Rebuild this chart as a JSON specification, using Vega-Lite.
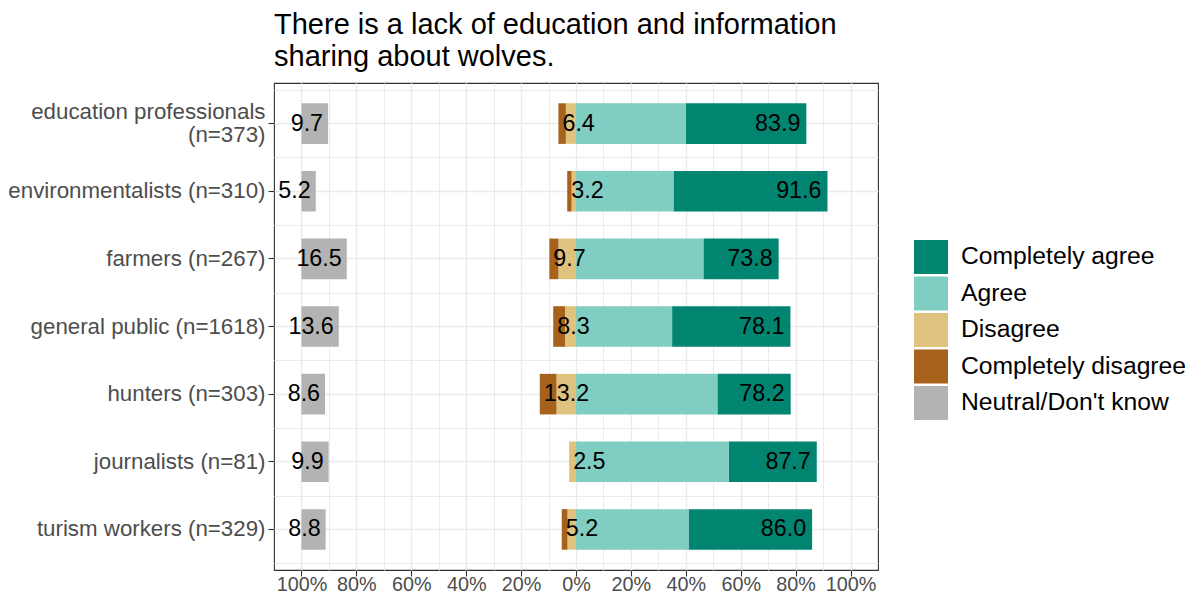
{
  "$schema": "https://vega.github.io/schema/vega-lite/v6.json",
  "width": 604,
  "height": 487,
  "autosize": {"type": "none"},
  "padding": {"left": 274, "top": 83, "right": 318, "bottom": 26},
  "background": "white",
  "title": {
    "text": ["There is a lack of education and information", "sharing about wolves."],
    "anchor": "start",
    "frame": "group",
    "fontSize": 29,
    "font": "Liberation Sans",
    "fontWeight": "normal",
    "color": "#000000",
    "lineHeight": 32,
    "offset": 11
  },
  "config": {
    "font": "Liberation Sans",
    "view": {"stroke": "#333333", "strokeWidth": 1.1},
    "legend": {
      "title": null,
      "symbolType": "square",
      "symbolSize": 1156,
      "symbolStrokeWidth": 0,
      "labelFontSize": 24.7,
      "labelColor": "#000000",
      "labelOffset": 13,
      "rowPadding": 2.5,
      "padding": 0,
      "labelLimit": 400
    }
  },
  "datasets": {
    "segments": [
      {"group": "education professionals (n=373)", "response": "Completely agree", "pct": 43.9},
      {"group": "education professionals (n=373)", "response": "Agree", "pct": 40.0},
      {"group": "education professionals (n=373)", "response": "Disagree", "pct": 3.7},
      {"group": "education professionals (n=373)", "response": "Completely disagree", "pct": 2.7},
      {"group": "education professionals (n=373)", "response": "Neutral/Don't know", "pct": 9.7},
      {"group": "environmentalists (n=310)", "response": "Completely agree", "pct": 56.1},
      {"group": "environmentalists (n=310)", "response": "Agree", "pct": 35.5},
      {"group": "environmentalists (n=310)", "response": "Disagree", "pct": 1.6},
      {"group": "environmentalists (n=310)", "response": "Completely disagree", "pct": 1.6},
      {"group": "environmentalists (n=310)", "response": "Neutral/Don't know", "pct": 5.2},
      {"group": "farmers (n=267)", "response": "Completely agree", "pct": 27.4},
      {"group": "farmers (n=267)", "response": "Agree", "pct": 46.4},
      {"group": "farmers (n=267)", "response": "Disagree", "pct": 6.4},
      {"group": "farmers (n=267)", "response": "Completely disagree", "pct": 3.3},
      {"group": "farmers (n=267)", "response": "Neutral/Don't know", "pct": 16.5},
      {"group": "general public (n=1618)", "response": "Completely agree", "pct": 43.1},
      {"group": "general public (n=1618)", "response": "Agree", "pct": 35.0},
      {"group": "general public (n=1618)", "response": "Disagree", "pct": 4.0},
      {"group": "general public (n=1618)", "response": "Completely disagree", "pct": 4.3},
      {"group": "general public (n=1618)", "response": "Neutral/Don't know", "pct": 13.6},
      {"group": "hunters (n=303)", "response": "Completely agree", "pct": 26.7},
      {"group": "hunters (n=303)", "response": "Agree", "pct": 51.5},
      {"group": "hunters (n=303)", "response": "Disagree", "pct": 7.1},
      {"group": "hunters (n=303)", "response": "Completely disagree", "pct": 6.1},
      {"group": "hunters (n=303)", "response": "Neutral/Don't know", "pct": 8.6},
      {"group": "journalists (n=81)", "response": "Completely agree", "pct": 32.1},
      {"group": "journalists (n=81)", "response": "Agree", "pct": 55.6},
      {"group": "journalists (n=81)", "response": "Disagree", "pct": 2.5},
      {"group": "journalists (n=81)", "response": "Completely disagree", "pct": 0.0},
      {"group": "journalists (n=81)", "response": "Neutral/Don't know", "pct": 9.9},
      {"group": "turism workers (n=329)", "response": "Completely agree", "pct": 45.0},
      {"group": "turism workers (n=329)", "response": "Agree", "pct": 41.0},
      {"group": "turism workers (n=329)", "response": "Disagree", "pct": 3.1},
      {"group": "turism workers (n=329)", "response": "Completely disagree", "pct": 2.1},
      {"group": "turism workers (n=329)", "response": "Neutral/Don't know", "pct": 8.8}
    ],
    "totals": [
      {"group": "education professionals (n=373)", "low": 6.4, "high": 83.9},
      {"group": "environmentalists (n=310)", "low": 3.2, "high": 91.6},
      {"group": "farmers (n=267)", "low": 9.7, "high": 73.8},
      {"group": "general public (n=1618)", "low": 8.3, "high": 78.1},
      {"group": "hunters (n=303)", "low": 13.2, "high": 78.2},
      {"group": "journalists (n=81)", "low": 2.5, "high": 87.7},
      {"group": "turism workers (n=329)", "low": 5.2, "high": 86.0}
    ]
  },
  "resolve": {
    "scale": {"x": "independent"},
    "axis": {"x": "independent", "y": "independent"}
  },
  "layer": [
    {
      "data": {"name": "segments"},
      "transform": [{"filter": {"field": "response", "oneOf": ["Agree", "Completely agree"]}}],
      "mark": {"type": "bar", "height": {"band": 0.6}},
      "encoding": {
        "y": {
          "field": "group", "type": "nominal", "sort": null,
          "scale": {
            "domain": ["education professionals (n=373)", "environmentalists (n=310)", "farmers (n=267)", "general public (n=1618)", "hunters (n=303)", "journalists (n=81)", "turism workers (n=329)"],
            "paddingInner": 0, "paddingOuter": 0.1
          },
          "axis": {
            "title": null, "orient": "left", "grid": true, "gridColor": "#EBEBEB", "gridWidth": 1.4,
            "domain": false, "tickColor": "#333333", "tickSize": 6, "tickWidth": 1.1,
            "labelFontSize": 22.3, "labelColor": "#4D4D4D", "labelPadding": 3, "labelLimit": 400,
            "labelLineHeight": 23.5,
            "labelOffset": {"condition": {"test": "datum.value == 'education professionals (n=373)'", "value": -11.75}, "value": 0},
            "labelExpr": "datum.label == 'education professionals (n=373)' ? ['education professionals', '(n=373)'] : datum.label"
          }
        },
        "x": {
          "field": "pct", "type": "quantitative", "stack": "zero",
          "scale": {"domain": [-110, 110], "nice": false, "zero": false},
          "axis": {
            "orient": "bottom", "title": null,
            "values": [-100, -80, -60, -40, -20, 0, 20, 40, 60, 80, 100],
            "labelExpr": "abs(datum.value) + '%'",
            "grid": true, "gridColor": "#EBEBEB", "gridWidth": 1.4,
            "domain": false, "tickColor": "#333333", "tickSize": 6, "tickWidth": 1.1,
            "labelFontSize": 19.8, "labelColor": "#4D4D4D", "labelPadding": -2,
            "labelFlush": false, "labelOverlap": false
          }
        },
        "color": {
          "field": "response", "type": "nominal",
          "scale": {
            "domain": ["Completely agree", "Agree", "Disagree", "Completely disagree", "Neutral/Don't know"],
            "range": ["#018571", "#80CDC1", "#DFC27D", "#A6611A", "#B3B3B3"]
          },
          "legend": {"orient": "none", "legendX": 640, "legendY": 157}
        },
        "order": {"field": "response", "sort": "ascending"}
      }
    },
    {
      "data": {"name": "segments"},
      "transform": [{"filter": {"field": "response", "oneOf": ["Disagree", "Completely disagree"]}}],
      "mark": {"type": "bar", "height": {"band": 0.6}},
      "encoding": {
        "y": {
          "field": "group", "type": "nominal", "sort": null,
          "axis": {
            "title": null, "orient": "right", "tickBand": "extent", "grid": true,
            "gridColor": "#EBEBEB", "gridWidth": 1, "labels": false, "ticks": false, "domain": false
          }
        },
        "x": {
          "field": "pct", "type": "quantitative", "stack": "zero",
          "scale": {"domain": [-110, 110], "reverse": true, "nice": false, "zero": false},
          "axis": null
        },
        "color": {"field": "response", "type": "nominal"},
        "order": {"field": "response", "sort": "descending"}
      }
    },
    {
      "data": {"name": "segments"},
      "transform": [{"filter": {"field": "response", "equal": "Neutral/Don't know"}}],
      "mark": {"type": "bar", "height": {"band": 0.6}},
      "encoding": {
        "y": {"field": "group", "type": "nominal", "sort": null, "axis": null},
        "x": {
          "field": "pct", "type": "quantitative", "stack": "zero",
          "scale": {"domain": [-10, 210], "nice": false},
          "axis": null
        },
        "color": {"field": "response", "type": "nominal"}
      }
    },
    {
      "mark": {"type": "rule", "color": "#808080", "strokeWidth": 1.5},
      "encoding": {
        "x": {
          "datum": 0, "type": "quantitative",
          "scale": {"domain": [-110, 110], "nice": false},
          "axis": {
            "orient": "top", "title": null,
            "values": [-100, -90, -80, -70, -60, -50, -40, -30, -20, -10, 0, 10, 20, 30, 40, 50, 60, 70, 80, 90, 100],
            "grid": true, "gridColor": "#EBEBEB", "gridWidth": 1,
            "labels": false, "ticks": false, "domain": false
          }
        }
      }
    },
    {
      "data": {"name": "totals"},
      "mark": {"type": "text", "align": "right", "baseline": "middle", "dx": -6, "fontSize": 23.3, "color": "#000000"},
      "encoding": {
        "y": {"field": "group", "type": "nominal", "sort": null, "axis": null},
        "x": {"field": "high", "type": "quantitative", "scale": {"domain": [-110, 110], "nice": false, "zero": false}, "axis": null},
        "text": {"field": "high", "type": "quantitative", "format": ".1f"}
      }
    },
    {
      "data": {"name": "totals"},
      "mark": {"type": "text", "align": "left", "baseline": "middle", "dx": 4, "fontSize": 23.3, "color": "#000000"},
      "encoding": {
        "y": {"field": "group", "type": "nominal", "sort": null, "axis": null},
        "x": {"field": "low", "type": "quantitative", "scale": {"domain": [-110, 110], "reverse": true, "nice": false, "zero": false}, "axis": null},
        "text": {"field": "low", "type": "quantitative", "format": ".1f"}
      }
    },
    {
      "data": {"name": "segments"},
      "transform": [{"filter": {"field": "response", "equal": "Neutral/Don't know"}}],
      "mark": {"type": "text", "align": "right", "baseline": "middle", "dx": -5, "fontSize": 23.3, "color": "#000000"},
      "encoding": {
        "y": {"field": "group", "type": "nominal", "sort": null, "axis": null},
        "x": {"field": "pct", "type": "quantitative", "scale": {"domain": [-10, 210], "nice": false}, "axis": null},
        "text": {"field": "pct", "type": "quantitative", "format": ".1f"}
      }
    }
  ]
}
